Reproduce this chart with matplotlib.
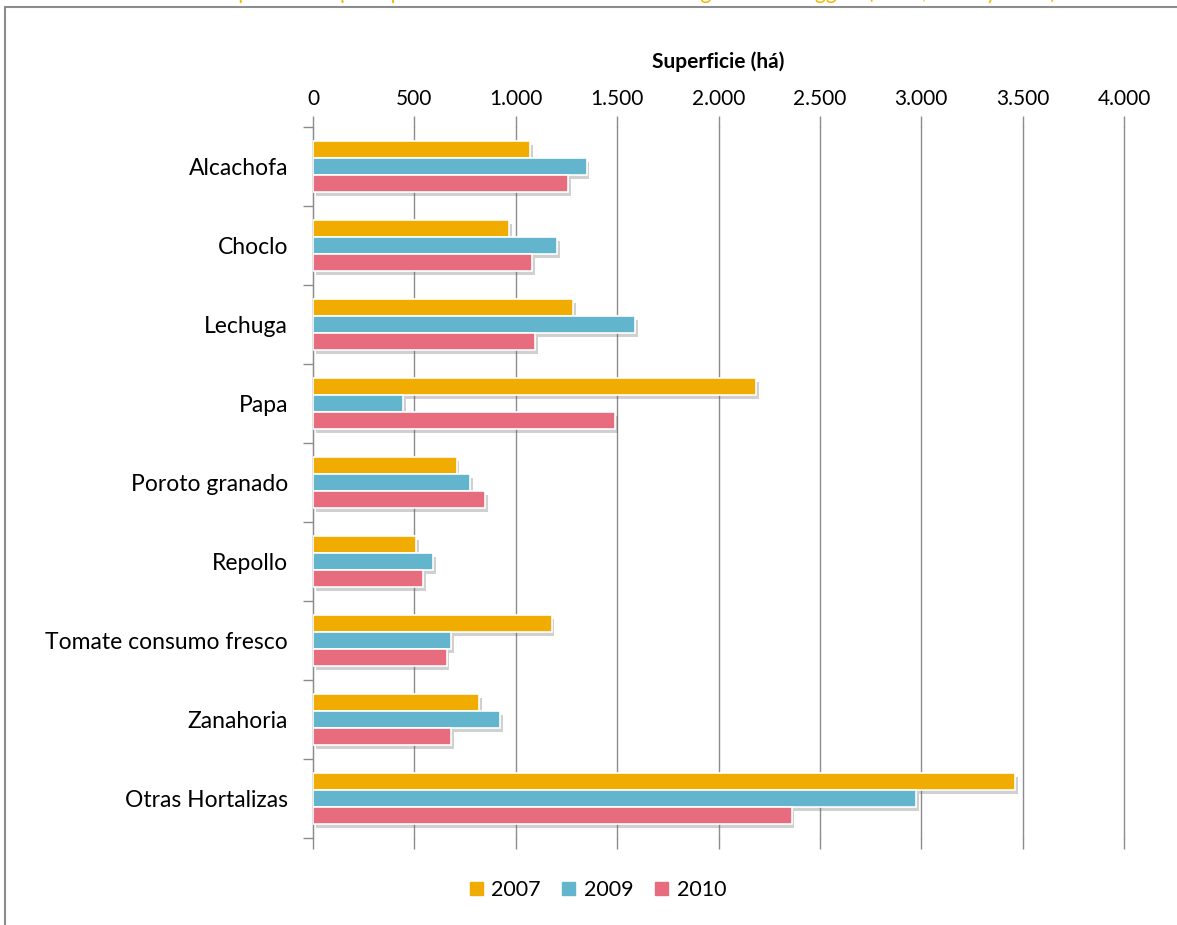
import matplotlib.pyplot as plt
import matplotlib.patheffects as pe
import matplotlib.patches as mpatches
from matplotlib.ticker import FuncFormatter
import numpy as np

plt.rcParams['font.family'] = ['Lato', 'DejaVu Sans']

# Superficie cultivada por hortaliza (ha)
cultivos = ['Alcachofa', 'Choclo', 'Lechuga', 'Papa', 'Poroto granado',
            'Repollo', 'Tomate consumo fresco', 'Zanahoria', 'Otras Hortalizas']
sup_2007 = [1070, 967, 1284, 2184, 708, 509, 1177, 820, 3462]
sup_2009 = [1350, 1203, 1590, 445, 774, 592, 682, 921, 2976]
sup_2010 = [1260, 1080, 1097, 1489, 848, 544, 659, 682, 2361]
anios = ['2007', '2009', '2010']
colores = ['#F0AC00', '#62B5CC', '#E76C7D']

fig = plt.figure(figsize=(11.77, 9.25), dpi=100)
ax = fig.add_axes([313 / 1177, 1 - 838 / 925, 811 / 1177, 711 / 925])

# marco exterior y título (cortado arriba)
fig.patches.append(mpatches.Rectangle((5 / 1177, -0.05), 1.1, 1 - 7 / 925 + 0.05,
                                      transform=fig.transFigure, fill=False,
                                      edgecolor='#8c8c8c', lw=1.5))
fig.text(0.5, 1.008, "Gráfico 1: Superficie de principales hortalizas cultivadas en la región de O'Higgins (2007, 2009 y 2010)",
         ha='center', va='center', color='#F5B700', fontsize=15)

y = np.arange(len(cultivos))
alto = 0.215
sombra = [pe.SimplePatchShadow(offset=(2, -3), shadow_rgbFace='#666666', alpha=0.3),
          pe.Normal()]
for i, (datos, col) in enumerate(zip([sup_2007, sup_2009, sup_2010], colores)):
    barras = ax.barh(y + (i - 1) * alto, datos, height=alto, color=col,
                     edgecolor='white', linewidth=1.2, zorder=3)
    for b in barras:
        b.set_path_effects(sombra)

ax.set_ylim(len(cultivos) - 0.5, -0.5)
ax.set_xlim(0, 4000)
ax.set_yticks(y)
ax.set_yticklabels(cultivos, fontsize=16.5)
ax.set_yticks(np.arange(-0.5, len(cultivos), 1), minor=True)
ax.tick_params(axis='y', which='major', length=0, pad=18)
ax.tick_params(axis='y', which='minor', length=7, color='#8c8c8c', width=1)

ax.set_xticks(np.arange(0, 4001, 500))
ax.xaxis.set_major_formatter(FuncFormatter(lambda v, p: f'{int(v):,}'.replace(',', '.')))
ax.tick_params(axis='x', top=True, bottom=True, labeltop=True, labelbottom=False,
               length=8, color='#8c8c8c', width=1, labelsize=15, pad=5)
ax.set_xlabel('Superficie (há)', fontsize=15, fontweight='bold', labelpad=15)
ax.xaxis.set_label_position('top')
ax.grid(axis='x', color='#8c8c8c', lw=1, zorder=0, clip_on=False)
ax.set_axisbelow(True)

for s in ['top', 'right', 'bottom']:
    ax.spines[s].set_visible(False)
ax.spines['left'].set_color('#8c8c8c')

# leyenda sin sombra
manejadores = [mpatches.Patch(color=c, label=a) for c, a in zip(colores, anios)]
fig.legend(handles=manejadores, loc='center', bbox_to_anchor=(0.508, 1 - 890 / 925),
           ncol=3, frameon=False, fontsize=15.5, handlelength=0.6, handleheight=0.6,
           handletextpad=0.4, columnspacing=1.0)

fig.savefig('out.png', dpi=100)
